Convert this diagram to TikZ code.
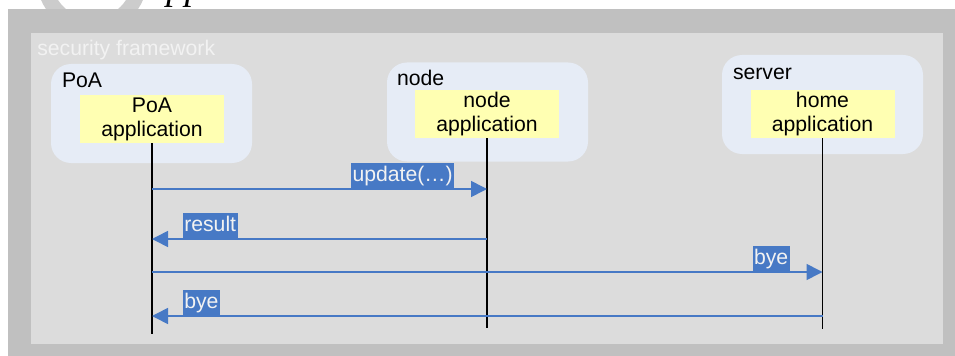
\documentclass[tikz,border=0pt]{standalone}
\usepackage{fontspec}
\setmainfont{Liberation Sans}
\newfontfamily\slidefont{Liberation Serif}
\usetikzlibrary{arrows.meta}
\definecolor{framegray}{RGB}{192,192,192}
\definecolor{innergray}{RGB}{220,220,220}
\definecolor{ringgray}{RGB}{204,204,204}
\definecolor{titlewhite}{RGB}{242,242,242}
\definecolor{hostblue}{RGB}{230,236,246}
\definecolor{appyellow}{RGB}{255,255,178}
\definecolor{msgblue}{RGB}{71,121,197}
\begin{document}
\begin{tikzpicture}[x=0.75pt,y=-0.75pt,
  every node/.style={font=\fontsize{15.9}{18}\selectfont},
  host/.style={fill=hostblue,rounded corners=15pt,minimum width=150.75pt,minimum height=74.25pt,inner sep=0},
  hostname/.style={anchor=base west,inner sep=0},
  app/.style={fill=appyellow,minimum width=108pt,minimum height=36pt,inner sep=0,align=center},
  lifeline/.style={line width=1.4pt},
  msg/.style={draw=msgblue,line width=1.2pt,-{Triangle[length=12pt,width=12pt]}},
  msglabel/.style={fill=msgblue,text=titlewhite,inner xsep=1.1pt,inner ysep=1.8pt,text height=11.8pt,text depth=3.5pt}]
\useasboundingbox (0,0) rectangle (955,356);
\clip (0,0) rectangle (955,356);
% bits of the slide above
\draw [ringgray,line width=11.25pt] (92,-22) circle (48);
\node [anchor=base west,inner sep=0,font=\fontsize{28}{28}\slidefont\itshape] (slidetitle) at (166,0) {pp};
% frame
\fill [framegray] (8,9) rectangle (955,356);
\fill [innergray] (31,33) rectangle (943,344);
\node [anchor=base west,inner sep=0,text=titlewhite] (frame) at (37,56) {security framework};
% participants
\node [host] (poa) at (151.5,113.5) {};
\node [hostname] (poaname) at ([shift={(11,24)}]poa.north west) {PoA};
\node [app] (poaapp) at (152,119) {PoA\\application};
\node [host] (nd) at (487.5,112) {};
\node [hostname] (ndname) at ([shift={(10,23)}]nd.north west) {node};
\node [app] (ndapp) at (487,114) {node\\application};
\node [host] (srv) at (822.5,104.5) {};
\node [hostname] (srvname) at ([shift={(11,25)}]srv.north west) {server};
\node [app] (srvapp) at (822.5,114) {home\\application};
% lifelines
\coordinate (poaend) at (152,334);
\coordinate (ndend) at (487,328);
\coordinate (srvend) at (822.5,329);
\draw [lifeline] (poaapp.south) -- (poaend);
\draw [lifeline] (ndapp.south) -- (ndend);
\draw [lifeline] (srvapp.south) -- (srvend);
% messages
\coordinate (t1) at (0,189);
\coordinate (t2) at (0,239);
\coordinate (t3) at (0,272);
\coordinate (t4) at (0,316);
\draw [msg] (poaapp |- t1) -- (ndapp |- t1) node [msglabel,at end,anchor=south east,xshift=-24pt] (m1) {update(…)};
\draw [msg] (ndapp |- t2) -- (poaapp |- t2) node [msglabel,at end,anchor=south west,xshift=22.5pt] (m2) {result};
\draw [msg] (poaapp |- t3) -- (srvapp |- t3) node [msglabel,at end,anchor=south east,xshift=-24pt] (m3) {bye};
\draw [msg] (srvapp |- t4) -- (poaapp |- t4) node [msglabel,at end,anchor=south west,xshift=22.5pt] (m4) {bye};
\end{tikzpicture}
\end{document}
